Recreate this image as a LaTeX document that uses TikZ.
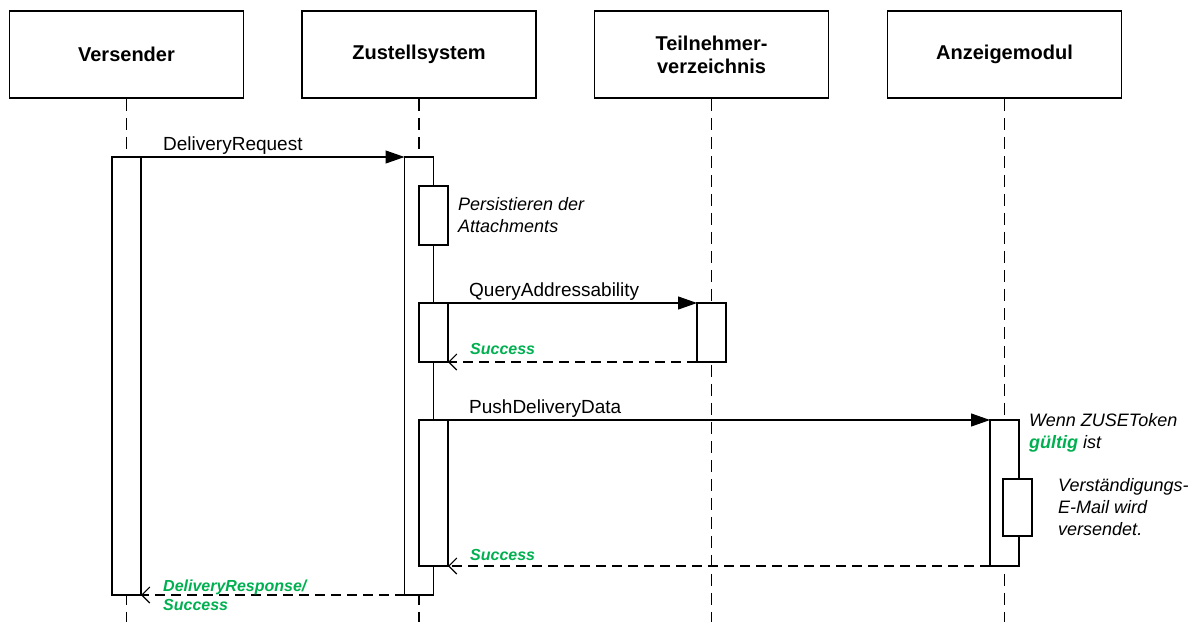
\documentclass[tikz,border=0pt]{standalone}
\usepackage{fontspec}
\setmainfont{Liberation Sans}
\usepackage{xcolor}
\usetikzlibrary{positioning,arrows.meta}
\definecolor{okgreen}{HTML}{00B050}

\begin{document}
\begin{tikzpicture}[x=1pt, y=-1pt,
    actor/.style={draw, line width=1.5pt, minimum width=234pt, minimum height=87pt, inner sep=0pt, align=center, font=\fontsize{20}{23}\selectfont\bfseries},
    bar/.style={draw, line width=1.4pt, fill=white, minimum width=29pt, inner sep=0pt, outer sep=0pt, anchor=north},
    lifeline/.style={line width=1.1pt, dash pattern=on 12pt off 7pt},
    call/.style={line width=1.1pt, -{Triangle[length=19pt,width=13pt]}},
    reply/.style={line width=1.1pt, dash pattern=on 10pt off 6pt, -{Straight Barb[length=8pt,width=16pt]}},
    msg/.style={inner sep=0pt, font=\fontsize{19}{22}\selectfont},
    ok/.style={inner sep=0pt, align=left, text=okgreen, font=\fontsize{16}{19}\selectfont\bfseries\itshape},
    note/.style={inner sep=0pt, align=left, font=\fontsize{18}{22}\selectfont\itshape}]
    \useasboundingbox (0,0) rectangle (1196,622);
    \coordinate (bottom) at (0,622);

    \node[actor] (vers) at (126.5,54.5) {Versender};
    \node[actor] (zust) at (419,54.5) {Zustellsystem};
    \node[actor] (teil) at (711.5,54.5) {Teilnehmer-\\verzeichnis};
    \node[actor] (anz) at (1004.5,54.5) {Anzeigemodul};

    \foreach \a in {vers,zust,teil,anz}
        \draw[lifeline] (\a.south) -- (\a.south |- bottom);

    \node[bar, minimum height=438pt] (vbar) at (126.5,157) {};
    \node[bar, minimum height=438pt] (zbar) at (419,157) {};
    \node[bar, minimum height=59pt] (pbar) at (433.5,186) {};
    \node[bar, minimum height=59pt] (qbar) at (433.5,303) {};
    \node[bar, minimum height=146pt] (dbar) at (433.5,420) {};
    \node[bar, minimum height=59pt] (tbar) at (711.5,303) {};
    \node[bar, minimum height=146pt] (abar) at (1004.5,420) {};
    \node[bar, minimum height=57pt] (mbar) at (1017.5,479) {};

    \draw[call] (vbar.north east) -- (zbar.north west);
    \draw[call] (qbar.north east) -- (tbar.north west);
    \draw[reply] (tbar.south west) -- (qbar.south east);
    \draw[call] (dbar.north east) -- (abar.north west);
    \draw[reply] (abar.south west) -- (dbar.south east);
    \draw[reply] (zbar.south west) -- (vbar.south east);

    \node[msg, above right=2pt and 22pt of vbar.north east] (lreq) {DeliveryRequest};
    \node[msg, above right=2pt and 21pt of qbar.north east] (lquery) {QueryAddressability};
    \node[msg, above right=2pt and 21pt of dbar.north east] (lpush) {PushDeliveryData};
    \node[ok, above right=7pt and 22pt of qbar.south east] (lok1) {Success};
    \node[ok, above right=5pt and 22pt of dbar.south east] (lok2) {Success};
    \node[ok, right=22pt of vbar.south east] (lresp) {DeliveryResponse/\\Success};

    \node[note, right=10pt of pbar.east] (lpers) {Persistieren der\\Attachments};
    \node[note, below right=-7pt and 10pt of abar.north east] (ltoken) {Wenn ZUSEToken\\{\color{okgreen}\bfseries gültig} ist};
    \node[note, right=26pt of mbar.east] (lmail) {Verständigungs-\\E-Mail wird\\versendet.};
\end{tikzpicture}
\end{document}
